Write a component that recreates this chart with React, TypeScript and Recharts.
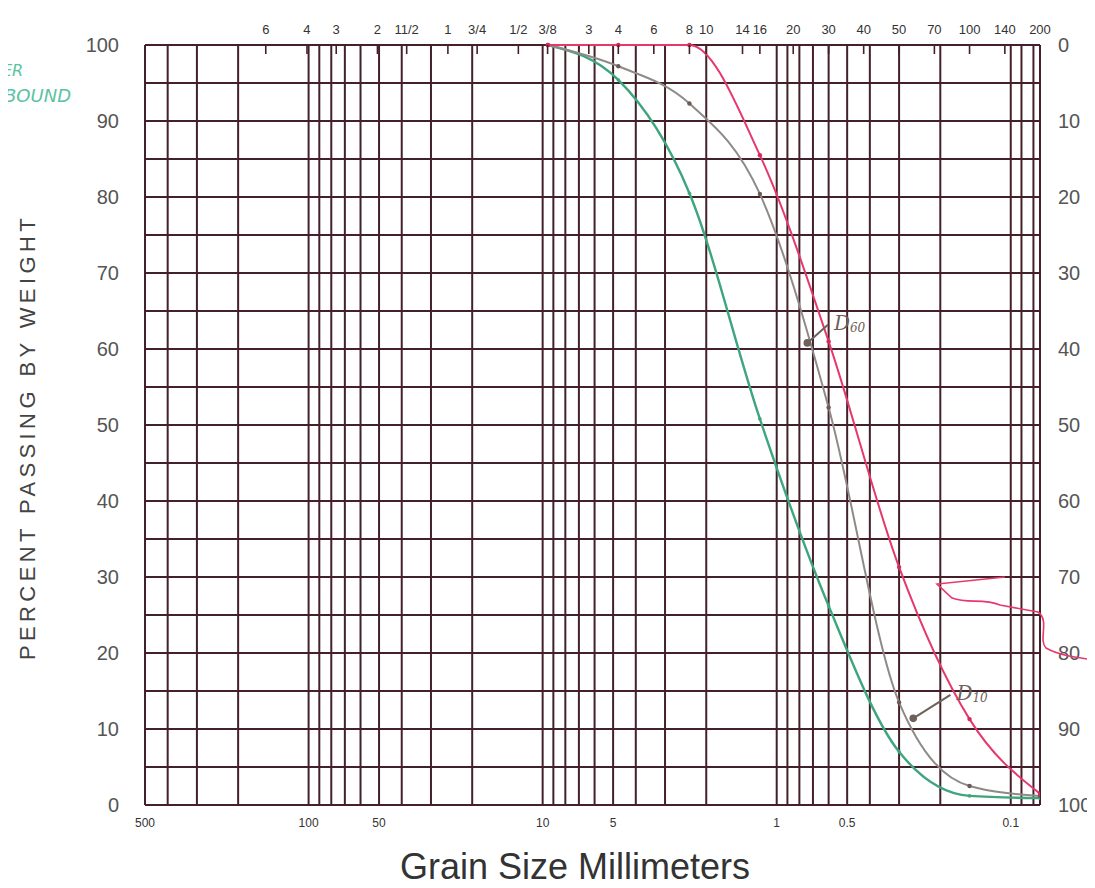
import React from 'react';
import {
  LineChart,
  Line,
  XAxis,
  YAxis,
  CartesianGrid,
  ReferenceDot,
  ReferenceLine,
} from 'recharts';

// ---- Data ----
// sieve openings used in the test (mm): 3/8", #4, #8, #16, #30, #50, #100, #200
const sieveMm = [9.5, 4.75, 2.36, 1.18, 0.6, 0.3, 0.15, 0.075];
const upperBound = [100, 100, 100, 85.5, 61, 31.3, 11.3, 1.5];
const sampleCurve = [100, 97.2, 92.3, 80.4, 52.3, 13.5, 2.5, 1.2];
const lowerBound = [100, 95.4, 80.5, 50.8, 26.2, 7.0, 1.2, 0.9];

// vertical grid lines (mm)
const gridMm = [
  500, 400, 300, 200, 100, 90, 80, 70, 60, 50, 40, 30, 20, 10, 9, 8, 7, 6, 5, 4, 3, 2,
  1, 0.9, 0.8, 0.7, 0.6, 0.5, 0.4, 0.3, 0.2, 0.1, 0.09, 0.08, 0.075,
];
const bottomLabels = [500, 100, 50, 10, 5, 1, 0.5, 0.1];

// top sieve scale
const topSieveMm = [
  152.4, 101.6, 76.2, 50.8, 38.1, 25.4, 19.05, 12.7, 9.525, 6.35, 4.75, 3.35, 2.36, 2.0,
  1.4, 1.18, 0.85, 0.6, 0.425, 0.3, 0.212, 0.15, 0.106, 0.075,
];
const topSieveLabels = [
  '6', '4', '3', '2', '11/2', '1', '3/4', '1/2', '3/8', '3', '4', '6', '8', '10',
  '14', '16', '20', '30', '40', '50', '70', '100', '140', '200',
];

const leftTicks = [0, 5, 10, 15, 20, 25, 30, 35, 40, 45, 50, 55, 60, 65, 70, 75, 80, 85, 90, 95, 100];
const rightTicks = [0, 10, 20, 30, 40, 50, 60, 70, 80, 90, 100];

// D60 / D10
const d60 = { size: 0.74, pct: 60.8 };
const d60Label = { size: 0.604, pct: 63.2 };
const d10 = { size: 0.261, pct: 11.4 };
const d10Label = { size: 0.181, pct: 14.5 };

const rows = sieveMm.map((s, i) => ({
  size: s,
  upper: upperBound[i],
  sample: sampleCurve[i],
  lower: lowerBound[i],
}));

const FONT = '"Liberation Sans", Arial, sans-serif';
const GRID = '#44202a';
const RED = '#e6386c';
const GRAY = '#8e8a88';
const GREEN = '#3ea57f';
const ANNO = '#6d6159';

const fmtBottom = (v: number) => (bottomLabels.includes(v) ? String(v) : '');

const TopTick = (props: any) => {
  const { x, y, payload } = props;
  const idx = topSieveMm.indexOf(payload.value);
  const label = idx >= 0 ? topSieveLabels[idx] : '';
  return (
    <g>
      <line x1={x} x2={x} y1={y} y2={y + 9} stroke={GRID} strokeWidth={1.6} />
      <text x={x} y={y - 11} textAnchor="middle" fontSize={13} fill="#333" fontFamily={FONT}>
        {label}
      </text>
    </g>
  );
};

const subLabel = (main: string, sub: string) => (props: any) => {
  const vb = props.viewBox || {};
  const x = (vb.x ?? 0) + (vb.width ?? 0) / 2;
  const y = (vb.y ?? 0) + (vb.height ?? 0) / 2;
  return (
    <text x={x + 6} y={y + 5} fill={ANNO} fontSize={20} fontFamily="DejaVu Serif" fontStyle="italic">
      {main}
      <tspan fontSize={12} dy={2}>
        {sub}
      </tspan>
    </text>
  );
};

export default function App() {
  return (
    <div style={{ position: 'relative', width: 1095, height: 888, marginTop: -8, marginLeft: -8 }}>
      <LineChart
        width={1095}
        height={888}
        data={rows}
        margin={{ top: 15, right: 15, bottom: 53, left: 85 }}
        style={{ fontFamily: FONT }}
      >
        <CartesianGrid xAxisId="bottom" yAxisId="left" stroke={GRID} strokeWidth={2} />
        <XAxis
          xAxisId="bottom"
          dataKey="size"
          type="number"
          scale="log"
          domain={[0.075, 500]}
          reversed
          allowDataOverflow
          ticks={gridMm}
          interval={0}
          tickFormatter={fmtBottom}
          height={30}
          tickLine={false}
          axisLine={false}
          tickMargin={7}
          tick={{ fill: '#333', fontSize: 12, fontFamily: FONT }}
          label={{
            content: () => (
              <text x={575} y={879} textAnchor="middle" fontSize={36} fill="#333" fontFamily={FONT}>
                Grain Size Millimeters
              </text>
            ),
          }}
        />
        <XAxis
          xAxisId="top"
          orientation="top"
          dataKey="size"
          type="number"
          scale="log"
          domain={[0.075, 500]}
          reversed
          allowDataOverflow
          ticks={topSieveMm}
          interval={0}
          height={30}
          tickSize={0}
          tickMargin={0}
          axisLine={false}
          tick={<TopTick />}
        />
        <YAxis
          yAxisId="left"
          type="number"
          domain={[0, 100]}
          ticks={leftTicks}
          interval={0}
          width={60}
          tickLine={false}
          axisLine={false}
          tickMargin={20}
          tickFormatter={(v: number) => (v % 10 === 0 ? String(v) : '')}
          tick={{ fill: '#555', fontSize: 20, fontFamily: FONT }}
          label={{
            content: () => (
              <text
                x={35}
                y={437}
                transform="rotate(-90, 35, 437)"
                textAnchor="middle"
                fontSize={22}
                letterSpacing={4.4}
                fill="#444"
                fontFamily={FONT}
              >
                PERCENT PASSING BY WEIGHT
              </text>
            ),
          }}
        />
        <YAxis
          yAxisId="right"
          orientation="right"
          type="number"
          domain={[0, 100]}
          allowDataOverflow
          reversed
          ticks={rightTicks}
          interval={0}
          width={40}
          tickLine={false}
          axisLine={false}
          tickMargin={12}
          tick={{ fill: '#555', fontSize: 20, fontFamily: FONT }}
        />

        <Line
          xAxisId="bottom"
          yAxisId="left"
          dataKey="lower"
          type="monotone"
          stroke={GREEN}
          strokeWidth={2.4}
          dot={{ r: 1.8, fill: GREEN, stroke: 'none' }}
          isAnimationActive={false}
        />
        <Line
          xAxisId="bottom"
          yAxisId="left"
          dataKey="sample"
          type="monotone"
          stroke={GRAY}
          strokeWidth={2}
          dot={{ r: 2.2, fill: '#6b5a55', stroke: 'none' }}
          isAnimationActive={false}
        />
        <Line
          xAxisId="bottom"
          yAxisId="left"
          dataKey="upper"
          type="monotone"
          stroke={RED}
          strokeWidth={2}
          dot={{ r: 2.2, fill: '#d42a5c', stroke: 'none' }}
          isAnimationActive={false}
        />

        <ReferenceLine
          xAxisId="bottom"
          yAxisId="left"
          segment={[
            { x: d60.size, y: d60.pct },
            { x: d60Label.size, y: d60Label.pct },
          ]}
          stroke={ANNO}
          strokeWidth={2}
        />
        <ReferenceDot
          xAxisId="bottom"
          yAxisId="left"
          x={d60.size}
          y={d60.pct}
          r={3.8}
          fill={ANNO}
          stroke="none"
        />
        <ReferenceDot
          xAxisId="bottom"
          yAxisId="left"
          x={d60Label.size}
          y={d60Label.pct}
          r={0}
          fill="none"
          stroke="none"
          label={{ content: subLabel('D', '60') }}
        />
        <ReferenceLine
          xAxisId="bottom"
          yAxisId="left"
          segment={[
            { x: d10.size, y: d10.pct },
            { x: d10Label.size, y: d10Label.pct },
          ]}
          stroke={ANNO}
          strokeWidth={2}
        />
        <ReferenceDot
          xAxisId="bottom"
          yAxisId="left"
          x={d10.size}
          y={d10.pct}
          r={3.8}
          fill={ANNO}
          stroke="none"
        />
        <ReferenceDot
          xAxisId="bottom"
          yAxisId="left"
          x={d10Label.size}
          y={d10Label.pct}
          r={0}
          fill="none"
          stroke="none"
          label={{ content: subLabel('D', '10') }}
        />
      </LineChart>

      {/* handwritten annotations */}
      <svg
        width={1095}
        height={888}
        style={{ position: 'absolute', left: 0, top: 0, pointerEvents: 'none' }}
      >
        <text x={2} y={76} fontSize={16} fill="#5cc2a2" fontStyle="italic" fontFamily="DejaVu Sans">
          ER
        </text>
        <text x={4} y={102} fontSize={18} fill="#5cc2a2" fontStyle="italic" fontFamily="DejaVu Sans">
          BOUND
        </text>
        <path
          d="M 1005 577 L 937 584 L 952 598 C 968 604, 983 598, 1000 605 L 1038 612 C 1050 620, 1038 640, 1046 648 C 1060 656, 1080 658, 1095 660"
          fill="none"
          stroke={RED}
          strokeWidth={1.6}
        />
        <path d="M 1094 730 C 1086 736, 1086 746, 1094 750" fill="none" stroke={RED} strokeWidth={1.6} />
      </svg>
    </div>
  );
}
